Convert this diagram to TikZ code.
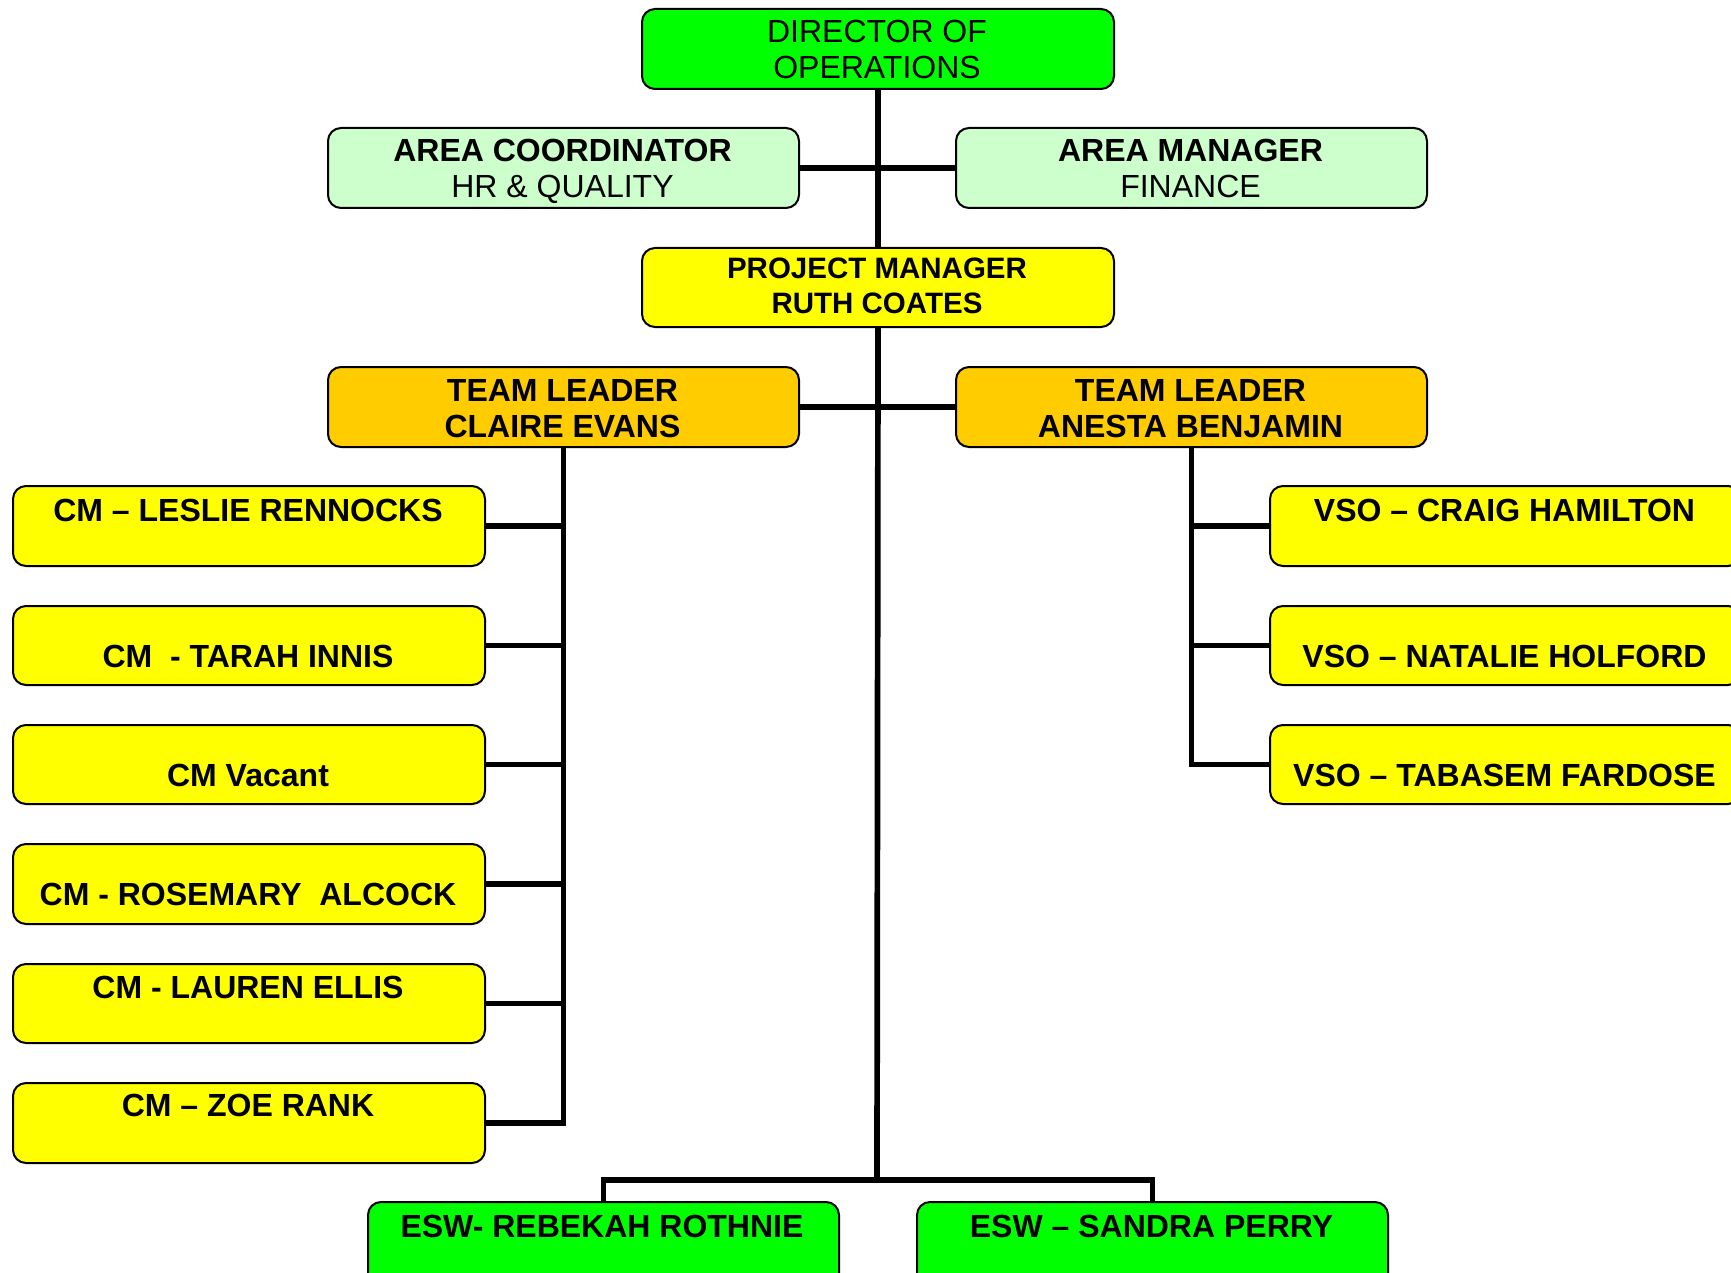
\documentclass[tikz,border=0pt]{standalone}
\usepackage{fontspec}
\setmainfont{Liberation Sans}
\newcommand\fsmain{\fontsize{32}{36.4}\selectfont}
\newcommand\fspm{\fontsize{29.5}{33}\selectfont}
\definecolor{brightgreen}{HTML}{00FF00}
\definecolor{palegreen}{HTML}{CCFFCC}
\definecolor{boxyellow}{HTML}{FFFF00}
\definecolor{teamorange}{HTML}{FFCC00}
\tikzset{
  box/.style={draw=black, line width=2pt, rounded corners=13pt, anchor=north west,
    minimum width=471pt, minimum height=79pt, inner sep=0pt},
  link/.style={draw=black, line width=5.7pt, line join=miter},
  lbl/.style={anchor=base, inner sep=0pt, font=\fsmain\bfseries},
  rlbl/.style={anchor=base, inner sep=0pt, font=\fsmain},
  pmlbl/.style={anchor=base, inner sep=0pt, font=\fspm\bfseries}
}
\begin{document}
\begin{tikzpicture}[x=1pt,y=-1pt]
\clip (0,0) rectangle (1731,1273);
\fill[white] (0,0) rectangle (1731,1273);
% top
\node[box, fill=brightgreen, minimum width=472pt, minimum height=80pt] (dir) at (641,8) {};
\node[rlbl] (tdir1) at (877,43) {DIRECTOR OF};
\node[rlbl] (tdir2) at (877,79) {OPERATIONS};
\node[box, fill=palegreen, minimum height=80pt] (ac) at (327,127) {};
\node[lbl] (tac1) at (562.5,162) {AREA COORDINATOR};
\node[rlbl] (tac2) at (562.5,198) {HR \& QUALITY};
\node[box, fill=palegreen, minimum height=80pt] (am) at (955,127) {};
\node[lbl] (tam1) at (1190.5,162) {AREA MANAGER};
\node[rlbl] (tam2) at (1190.5,198) {FINANCE};
\node[box, fill=boxyellow, minimum width=472pt] (pm) at (641,247) {};
\node[pmlbl] (tpm1) at (877,279) {PROJECT MANAGER};
\node[pmlbl] (tpm2) at (877,313) {RUTH COATES};
\node[box, fill=teamorange, minimum height=80pt] (tl1) at (327,366) {};
\node[lbl] (ttl1a) at (562.5,401) {TEAM LEADER};
\node[lbl] (ttl1b) at (562.5,437) {CLAIRE EVANS};
\node[box, fill=teamorange, minimum height=80pt] (tl2) at (955,366) {};
\node[lbl] (ttl2a) at (1190.5,401) {TEAM LEADER};
\node[lbl] (ttl2b) at (1190.5,437) {ANESTA BENJAMIN};
% CM boxes
\node[box, fill=boxyellow, minimum width=472pt, minimum height=80pt] (cm1) at (12,485) {};
\node[box, fill=boxyellow, minimum width=472pt] (cm2) at (12,605) {};
\node[box, fill=boxyellow, minimum width=472pt] (cm3) at (12,724) {};
\node[box, fill=boxyellow, minimum width=472pt, minimum height=80pt] (cm4) at (12,843) {};
\node[box, fill=boxyellow, minimum width=472pt] (cm5) at (12,963) {};
\node[box, fill=boxyellow, minimum width=472pt, minimum height=80pt] (cm6) at (12,1082) {};
\node[lbl] (tcm1) at (248,521) {CM -- LESLIE RENNOCKS};
\node[lbl] (tcm2) at (248,667) {CM\ \ - TARAH INNIS};
\node[lbl] (tcm3) at (248,786) {CM Vacant};
\node[lbl] (tcm4) at (248,905) {CM - ROSEMARY\ \ ALCOCK};
\node[lbl] (tcm5) at (248,998) {CM - LAUREN ELLIS};
\node[lbl] (tcm6) at (248,1116) {CM -- ZOE RANK};
% VSO boxes
\node[box, fill=boxyellow, minimum height=80pt] (vso1) at (1269,485) {};
\node[box, fill=boxyellow] (vso2) at (1269,605) {};
\node[box, fill=boxyellow] (vso3) at (1269,724) {};
\node[lbl] (tvso1) at (1504.5,521) {VSO -- CRAIG HAMILTON};
\node[lbl] (tvso2) at (1504.5,667) {VSO -- NATALIE HOLFORD};
\node[lbl] (tvso3) at (1504.5,786) {VSO -- TABASEM FARDOSE};
% ESW boxes
\node[box, fill=brightgreen, minimum height=90pt] (esw1) at (367,1201) {};
\node[box, fill=brightgreen, minimum height=90pt] (esw2) at (916,1201) {};
\node[lbl] (tesw1) at (602,1237) {ESW- REBEKAH ROTHNIE};
\node[lbl] (tesw2) at (1151.5,1237) {ESW -- SANDRA PERRY};
% connectors
\coordinate (bot) at (877,1180);
\draw[link] (dir.south) -- (pm.north);
\draw[link] (pm.south) -- (bot);
\draw[link] (ac.east) -- (am.west);
\draw[link] (tl1.east) -- (tl2.west);
\draw[link] (tl1.south) |- (cm6.east);
\foreach \i in {1,...,5} \draw[link] (cm\i.east) -- (tl1.south |- cm\i.east);
\draw[link] (tl2.south) |- (vso3.west);
\foreach \i in {1,2} \draw[link] (vso\i.west) -- (tl2.south |- vso\i.west);
\draw[link] (esw1.north) |- (bot) -| (esw2.north);
\end{tikzpicture}
\end{document}
